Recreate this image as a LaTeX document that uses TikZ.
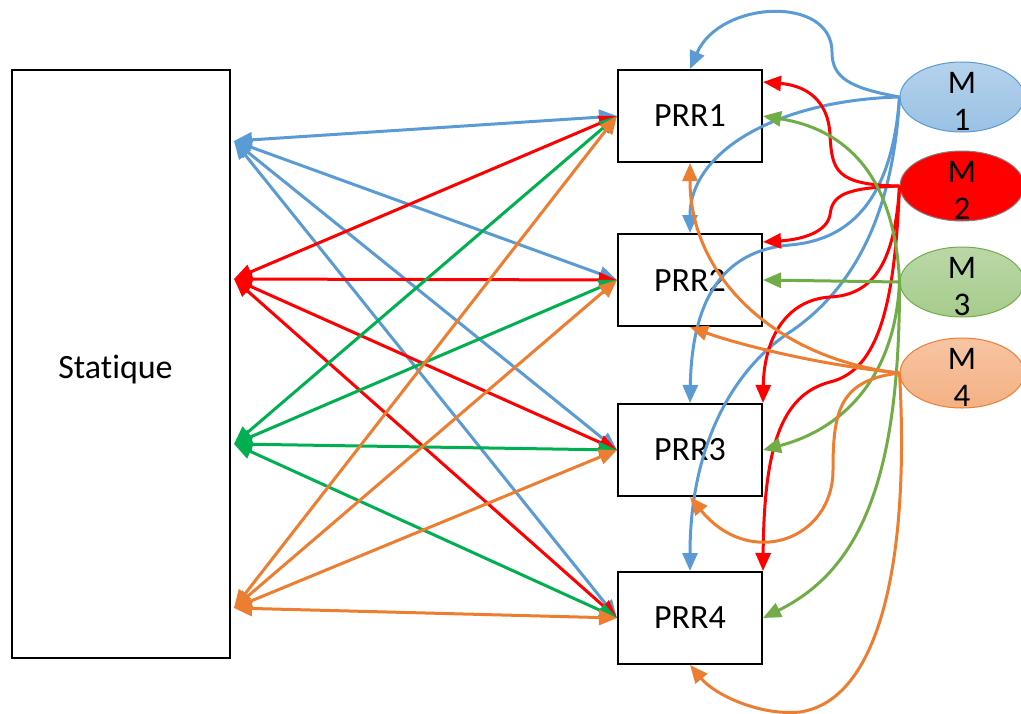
\documentclass[tikz,border=0pt]{standalone}
\usepackage{fontspec}
\setmainfont{Carlito}[Ligatures=CommonOff]
\usetikzlibrary{positioning, shapes.geometric, arrows.meta}

\definecolor{lblue}{HTML}{5B9BD5}
\definecolor{lred}{HTML}{FF0000}
\definecolor{lgreen}{HTML}{00B050}
\definecolor{mgreen}{HTML}{70AD47}
\definecolor{lorange}{HTML}{ED7D31}

\newcommand{\mstack}[1]{\raisebox{7pt}{\smash{\begin{tabular}[t]{@{}c@{}}M\\#1\end{tabular}}}}

\begin{document}
\begin{tikzpicture}[x=1pt, y=-1pt, >={Triangle[length=18pt, width=15pt]}]
    % styles
    \tikzstyle{block} = [rectangle, draw=black, line width=2pt, text centered, font=\fontsize{34}{40}\selectfont]
    \tikzstyle{prr} = [block, minimum width=144pt, minimum height=92pt]
    \tikzstyle{modul} = [ellipse, line width=1pt, minimum width=124pt, minimum height=70pt, inner sep=0pt, font=\fontsize{33}{37}\selectfont]
    \tikzstyle{link} = [line width=3pt, <->]
    \tikzstyle{ctrl} = [line width=3pt, ->]

    \useasboundingbox (0,0) rectangle (1021,713);

    % boxes
    \node (stat) [block, minimum width=218pt, minimum height=588pt, text height=35pt, text depth=7pt] at (121,364) {\hspace*{-11pt}Statique};
    \node (prr1) [prr] at (690,116) {PRR1};
    \node (prr2) [prr, below=70pt of prr1] {PRR2};
    \node (prr3) [prr, below=76pt of prr2] {PRR3};
    \node (prr4) [prr, below=74pt of prr3] {PRR4};

    % modules
    \node (m1) [modul, draw=lblue, top color=lblue!45, bottom color=lblue!62] at (962,97) {\mstack{1}};
    \node (m2) [modul, draw=gray, fill=lred] at (962,186) {\mstack{2}};
    \node (m3) [modul, draw=mgreen, top color=mgreen!48, bottom color=mgreen!62] at (962,282) {\mstack{3}};
    \node (m4) [modul, draw=lorange, top color=lorange!45, bottom color=lorange!60] at (962,373) {\mstack{4}};

    % ports on the static part
    \coordinate (sb) at ([xshift=3pt, yshift=-72pt]stat.north east);
    \coordinate (sr) at ([xshift=3pt, yshift=-210pt]stat.north east);
    \coordinate (sg) at ([xshift=3pt, yshift=-375pt]stat.north east);
    \coordinate (so) at ([xshift=3pt, yshift=-539pt]stat.north east);

    % static <-> prr
    \draw [link, lblue] (sb) -- (prr1.west);
    \draw [link, lblue] (sb) -- (prr2.west);
    \draw [link, lblue] (sb) -- (prr3.west);
    \draw [link, lblue] (sb) -- (prr4.west);
    \draw [link, lred] (sr) -- (prr1.west);
    \draw [link, lred] (sr) -- (prr2.west);
    \draw [link, lred] (sr) -- (prr3.west);
    \draw [link, lred] (sr) -- (prr4.west);
    \draw [link, lgreen] (sg) -- (prr1.west);
    \draw [link, lgreen] (sg) -- (prr2.west);
    \draw [link, lgreen] (sg) -- (prr3.west);
    \draw [link, lgreen] (sg) -- (prr4.west);
    \draw [link, lorange] (so) -- (prr1.west);
    \draw [link, lorange] (so) -- (prr2.west);
    \draw [link, lorange] (so) -- (prr3.west);
    \draw [link, lorange] (so) -- (prr4.west);

    % M1
    \draw [ctrl, lblue] (m1.west) .. controls (850,88) and (832,78) .. (832,52) .. controls (832,-5) and (720,0) .. (prr1.north);
    \draw [ctrl, lblue] (m1.west) .. controls (780,100) and (690,150) .. (prr2.north);
    \draw [ctrl, lblue] (m1.west) .. controls (892,200) and (850,240) .. (790,245) .. controls (730,250) and (692,290) .. (prr3.north);
    \draw [ctrl, lblue] (m1.west) .. controls (893,220) and (850,290) .. (793,330) .. controls (730,370) and (690,450) .. (prr4.north);

    % M2
    \draw [ctrl, lred] (m2.west) .. controls (835,185) and (832,170) .. (830,135) .. controls (828,95) and (800,85) .. ([yshift=-13pt]prr1.north east);
    \draw [ctrl, lred] (m2.west) .. controls (845,188) and (832,195) .. (830,215) .. controls (826,235) and (795,240) .. ([yshift=-9pt]prr2.north east);
    \draw [ctrl, lred] (m2.west) .. controls (895,260) and (875,295) .. (830,297) .. controls (785,300) and (764,340) .. (prr3.north east);
    \draw [ctrl, lred] (m2.west) .. controls (895,300) and (880,370) .. (830,382) .. controls (780,395) and (764,450) .. (prr4.north east);

    % M3
    \draw [ctrl, mgreen] (m3.west) .. controls (895,180) and (850,130) .. (prr1.east);
    \draw [ctrl, mgreen] (m3.west) -- (prr2.east);
    \draw [ctrl, mgreen] (m3.west) .. controls (895,380) and (840,430) .. (prr3.east);
    \draw [ctrl, mgreen] (m3.west) .. controls (900,480) and (860,570) .. (prr4.east);

    % M4
    \draw [ctrl, lorange] (m4.west) .. controls (780,360) and (690,280) .. (prr1.south);
    \draw [ctrl, lorange] (m4.west) .. controls (820,365) and (740,345) .. (prr2.south);
    \draw [ctrl, lorange] (m4.west) .. controls (840,380) and (833,410) .. (833,470) .. controls (833,540) and (750,570) .. (prr3.south);
    \draw [ctrl, lorange] (m4.west) .. controls (910,560) and (880,700) .. (800,712) .. controls (760,716) and (715,695) .. (prr4.south);
\end{tikzpicture}
\end{document}
